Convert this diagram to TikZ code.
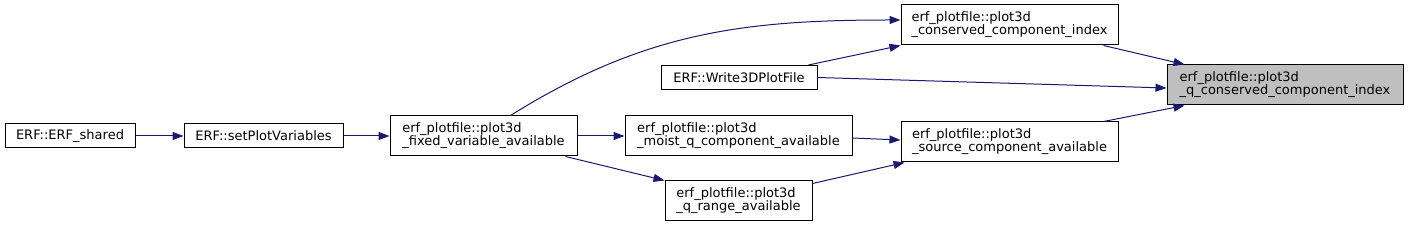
\documentclass[tikz,border=0pt]{standalone}
\usepackage{fontspec}
\setmainfont{DejaVu Sans}
\usetikzlibrary{arrows.meta}
\definecolor{EdgeClr}{HTML}{191970}
\definecolor{FocusClr}{HTML}{BFBFBF}

\begin{document}
\begin{tikzpicture}[x=1pt,y=1pt,
  fn/.style={draw=black,line width=1pt,inner sep=0pt,align=left,
    font=\fontsize{13}{13}\selectfont},
  call/.style={draw=EdgeClr,line width=1pt,
    -{Triangle[length=11pt,width=8pt,fill=EdgeClr]}}]
\useasboundingbox (0,0) rectangle (1408,227);

\node[fn,minimum width=130pt,minimum height=24pt] (shared) at (70,91) {ERF::ERF\_shared};
\node[fn,minimum width=159pt,minimum height=24pt] (setplot) at (263.5,91) {ERF::setPlotVariables};
\node[fn,minimum width=187pt,minimum height=40pt] (fixed) at (483.5,91) {erf\_plotfile::plot3d\\\_fixed\_variable\_available};
\node[fn,minimum width=156pt,minimum height=24pt] (write) at (739,149.5) {ERF::Write3DPlotFile};
\node[fn,minimum width=227pt,minimum height=40pt] (moist) at (738.5,91) {erf\_plotfile::plot3d\\\_moist\_q\_component\_available};
\node[fn,minimum width=147pt,minimum height=40pt] (qrange) at (738.5,26) {erf\_plotfile::plot3d\\\_q\_range\_available};
\node[fn,minimum width=217pt,minimum height=40pt] (conserved) at (1009.5,202) {erf\_plotfile::plot3d\\\_conserved\_component\_index};
\node[fn,minimum width=217pt,minimum height=40pt] (source) at (1009.5,85) {erf\_plotfile::plot3d\\\_source\_component\_available};
\node[fn,fill=FocusClr,minimum width=236pt,minimum height=40pt] (qcons) at (1285,142) {erf\_plotfile::plot3d\\\_q\_conserved\_component\_index};

\draw[call] (shared) -- (setplot);
\draw[call] (setplot) -- (fixed);
\draw[call] ([xshift=27pt]fixed.north) to[out=32,in=180] ([yshift=5pt]conserved.west);
\draw[call] ([xshift=-9pt]write.north east) -- (conserved.south west);
\draw[call] (write.east) -- ([yshift=-3pt]qcons.west);
\draw[call] ([xshift=-15pt]conserved.south east) -- ([xshift=18pt]qcons.north west);
\draw[call] (fixed) -- (moist);
\draw[call] ([xshift=-12pt]fixed.south east) -- (qrange.north west);
\draw[call] ([yshift=-2pt]moist.east) -- ([yshift=2pt]source.west);
\draw[call] ([yshift=-3pt]qrange.north east) -- ([xshift=4pt]source.south west);
\draw[call] ([xshift=-15pt]source.north east) -- ([xshift=18pt]qcons.south west);

\end{tikzpicture}
\end{document}
